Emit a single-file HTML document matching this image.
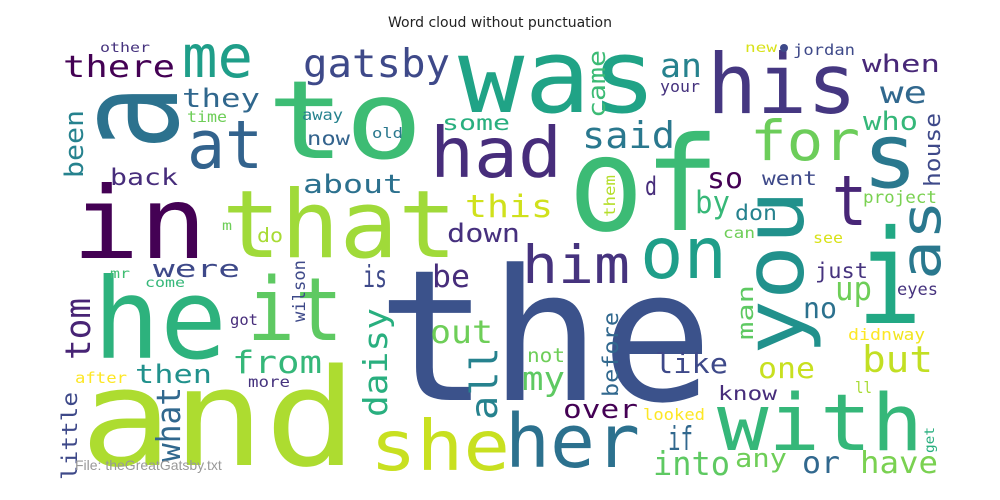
<!DOCTYPE html>
<html><head><meta charset="utf-8"><style>
html,body{margin:0;padding:0;background:#fff;width:1000px;height:500px;overflow:hidden}
svg{display:block}
text{font-family:"DejaVu Sans Mono","Liberation Mono",monospace}
</style></head><body>
<svg id="cloud" width="1000" height="500" viewBox="0 0 1000 500" xmlns="http://www.w3.org/2000/svg">
<rect x="0" y="0" width="1000" height="500" fill="#fff"/>
<text x="500" y="27" text-anchor="middle" font-size="14" fill="#222" style="font-family:'DejaVu Sans','Liberation Sans',sans-serif">Word cloud without punctuation</text>
<g id="words"></g>
<circle cx="784" cy="48" r="4" fill="#3e4989"/>
<text x="75" y="470" font-size="14" fill="#999" style="font-family:'Liberation Sans',sans-serif">File: theGreatGatsby.txt</text>
</svg>
<script>
// word, orientation (h/v), x0, x1 (ink), y0/baseline, y1, font size, color
const words = ["the","and","a","to","at","was","his","of","had","for","s","t","i","as","you","on","him","that","in","he","it","she","her","with","me","there","other","gatsby","they","been","back","time","away","now","old","some","about","this","down","do","m","were","mr","come","wilson","got","is","be","tom","then","from","daisy","out","all","after","more","what","little","an","came","your","new","jordan","when","we","who","house","said","so","went","d","them","project","by","don","can","see","just","up","eyes","no","man","didn","way","but","one","like","not","my","before","know","ll","over","looked","if","into","any","or","have","get"];
const orient = ["h","h","v","h","h","h","h","h","h","h","h","h","h","v","v","h","h","h","h","h","h","h","h","h","h","h","h","h","h","v","h","h","h","h","h","h","h","h","h","h","h","h","h","h","v","h","h","h","v","h","h","v","h","v","h","h","v","v","h","v","h","h","h","h","h","h","v","h","h","h","h","v","h","h","h","h","h","h","h","h","h","v","h","h","h","h","h","h","h","v","h","h","h","h","h","h","h","h","h","v"];
const x0s = [377,80,87,267,187,458,707,568,430,750,862,832,857,907,758,640,522,222,72,93,247,370,505,717,182,63,100,303,182,63,110,187,302,307,372,442,303,465,447,257,222,153,110,145,293,230,363,432,63,135,232,365,430,463,75,248,153,63,660,588,660,745,793,862,880,863,920,582,707,762,645,602,863,695,735,723,813,815,835,897,803,735,848,893,862,758,655,527,522,602,718,855,563,643,668,653,735,802,860,927];
const x1s = [713,357,177,423,263,657,857,720,562,860,918,867,922,940,823,727,630,457,207,227,343,510,640,923,253,175,150,450,260,83,178,227,343,350,403,510,403,553,520,283,232,240,130,185,305,258,387,470,90,212,322,395,493,497,127,290,180,77,702,605,700,777,855,940,927,918,940,675,743,817,657,615,937,730,777,755,843,868,872,938,837,753,892,925,933,815,728,565,565,618,777,872,638,705,693,730,787,840,938,937];
const ys = [400,465,85,158,168,112,113,230,177,160,187,225,323,200,190,278,283,257,258,358,340,470,467,450,77,77,52,77,107,110,185,122,120,145,138,130,193,217,242,242,230,277,278,287,260,325,287,287,298,383,373,308,343,347,383,387,387,392,77,50,92,52,55,72,103,130,113,148,188,185,195,175,203,213,220,238,243,278,300,295,318,285,340,340,372,378,373,362,390,312,400,393,418,420,450,475,467,473,473,427];
const y1s = [0,0,150,0,0,0,0,0,0,0,0,0,0,280,355,0,0,0,0,0,0,0,0,0,0,0,0,0,0,178,0,0,0,0,0,0,0,0,0,0,0,0,0,0,322,0,0,0,360,0,0,417,0,420,0,0,462,480,0,118,0,0,0,0,0,0,187,0,0,0,0,217,0,0,0,0,0,0,0,0,0,340,0,0,0,0,0,0,0,397,0,0,0,0,0,0,0,0,0,453];
const sizes = [210,155,164,125,77,118,95,150,80,63,104,80,150,63,95,82,60,108,115,128,100,80,85,90,68,35,15,45,30,30,27,17,17,22,16,25,30,36,30,22,15,28,15,15,19,17,35,36,40,30,36,38,37,43,17,17,38,24,38,28,18,15,17,28,35,30,26,42,33,22,30,17,19,36,24,17,17,24,38,19,33,26,18,18,42,33,32,22,38,24,22,18,30,18,38,38,30,35,35,15];
const colors = ["#3b528b","#addc30","#2c728e","#3dbc74","#33638d","#20a386","#453781","#3cbb75","#472d7b","#6ccd5a","#2a788e","#482677","#22a884","#2a788e","#21918c","#1f9e89","#46337e","#a0da39","#440154","#2db27d","#5ec962","#c8e020","#2c718e","#35b779","#1f9e89","#440154","#46337e","#3e4989","#30678d","#26828e","#472d7b","#6ece58","#26828e","#33638d","#2a788e","#29af7f","#2c718e","#d0e11c","#46307e","#a8db34","#6ece58","#3e4989","#40bd72","#35b779","#3e4989","#472d7b","#3e4989","#472d7b","#482475","#21918c","#35b779","#29af7f","#6ece58","#26828e","#fde725","#46337e","#31688e","#3e4989","#26828e","#3cbb75","#46337e","#d8e219","#3e4989","#482878","#31688e","#35b779","#3e4989","#2a788e","#440154","#3e4989","#472d7b","#b5de2b","#7ad151","#37b878","#26828e","#6ece58","#d8e219","#46337e","#6ece58","#46337e","#2c718e","#5ec962","#fde725","#f1e51d","#c2df23","#c8e020","#3e4989","#6ece58","#5ec962","#31688e","#472d7b","#a8db34","#440154","#fde725","#31688e","#5ec962","#6ece58","#31688e","#7ad151","#29af7f"];
const descWords = ["you","daisy","they","gatsby","get","project"];
const SCALE = 0.87;
const g = document.getElementById('words');
const NS = 'http://www.w3.org/2000/svg';
for (let k = 0; k < words.length; k++) {
  const fs = sizes[k] * SCALE;
  const t = document.createElementNS(NS, 'text');
  t.textContent = words[k];
  t.setAttribute('font-size', fs);
  t.setAttribute('fill', colors[k]);
  t.setAttribute('lengthAdjust', 'spacingAndGlyphs');
  if (orient[k] === 'h') {
    t.setAttribute('x', x0s[k]);
    t.setAttribute('y', ys[k]);
    t.setAttribute('textLength', Math.max(4, x1s[k] - x0s[k]));
  } else {
    const hasDesc = descWords.indexOf(words[k]) >= 0;
    const bx = hasDesc ? x1s[k] - 0.24 * fs : x1s[k];
    t.setAttribute('transform', 'translate(' + bx + ',' + y1s[k] + ') rotate(-90)');
    t.setAttribute('x', 0);
    t.setAttribute('y', 0);
    t.setAttribute('textLength', Math.max(4, y1s[k] - ys[k]));
  }
  
  
  g.appendChild(t);
}
</script>
</body></html>
